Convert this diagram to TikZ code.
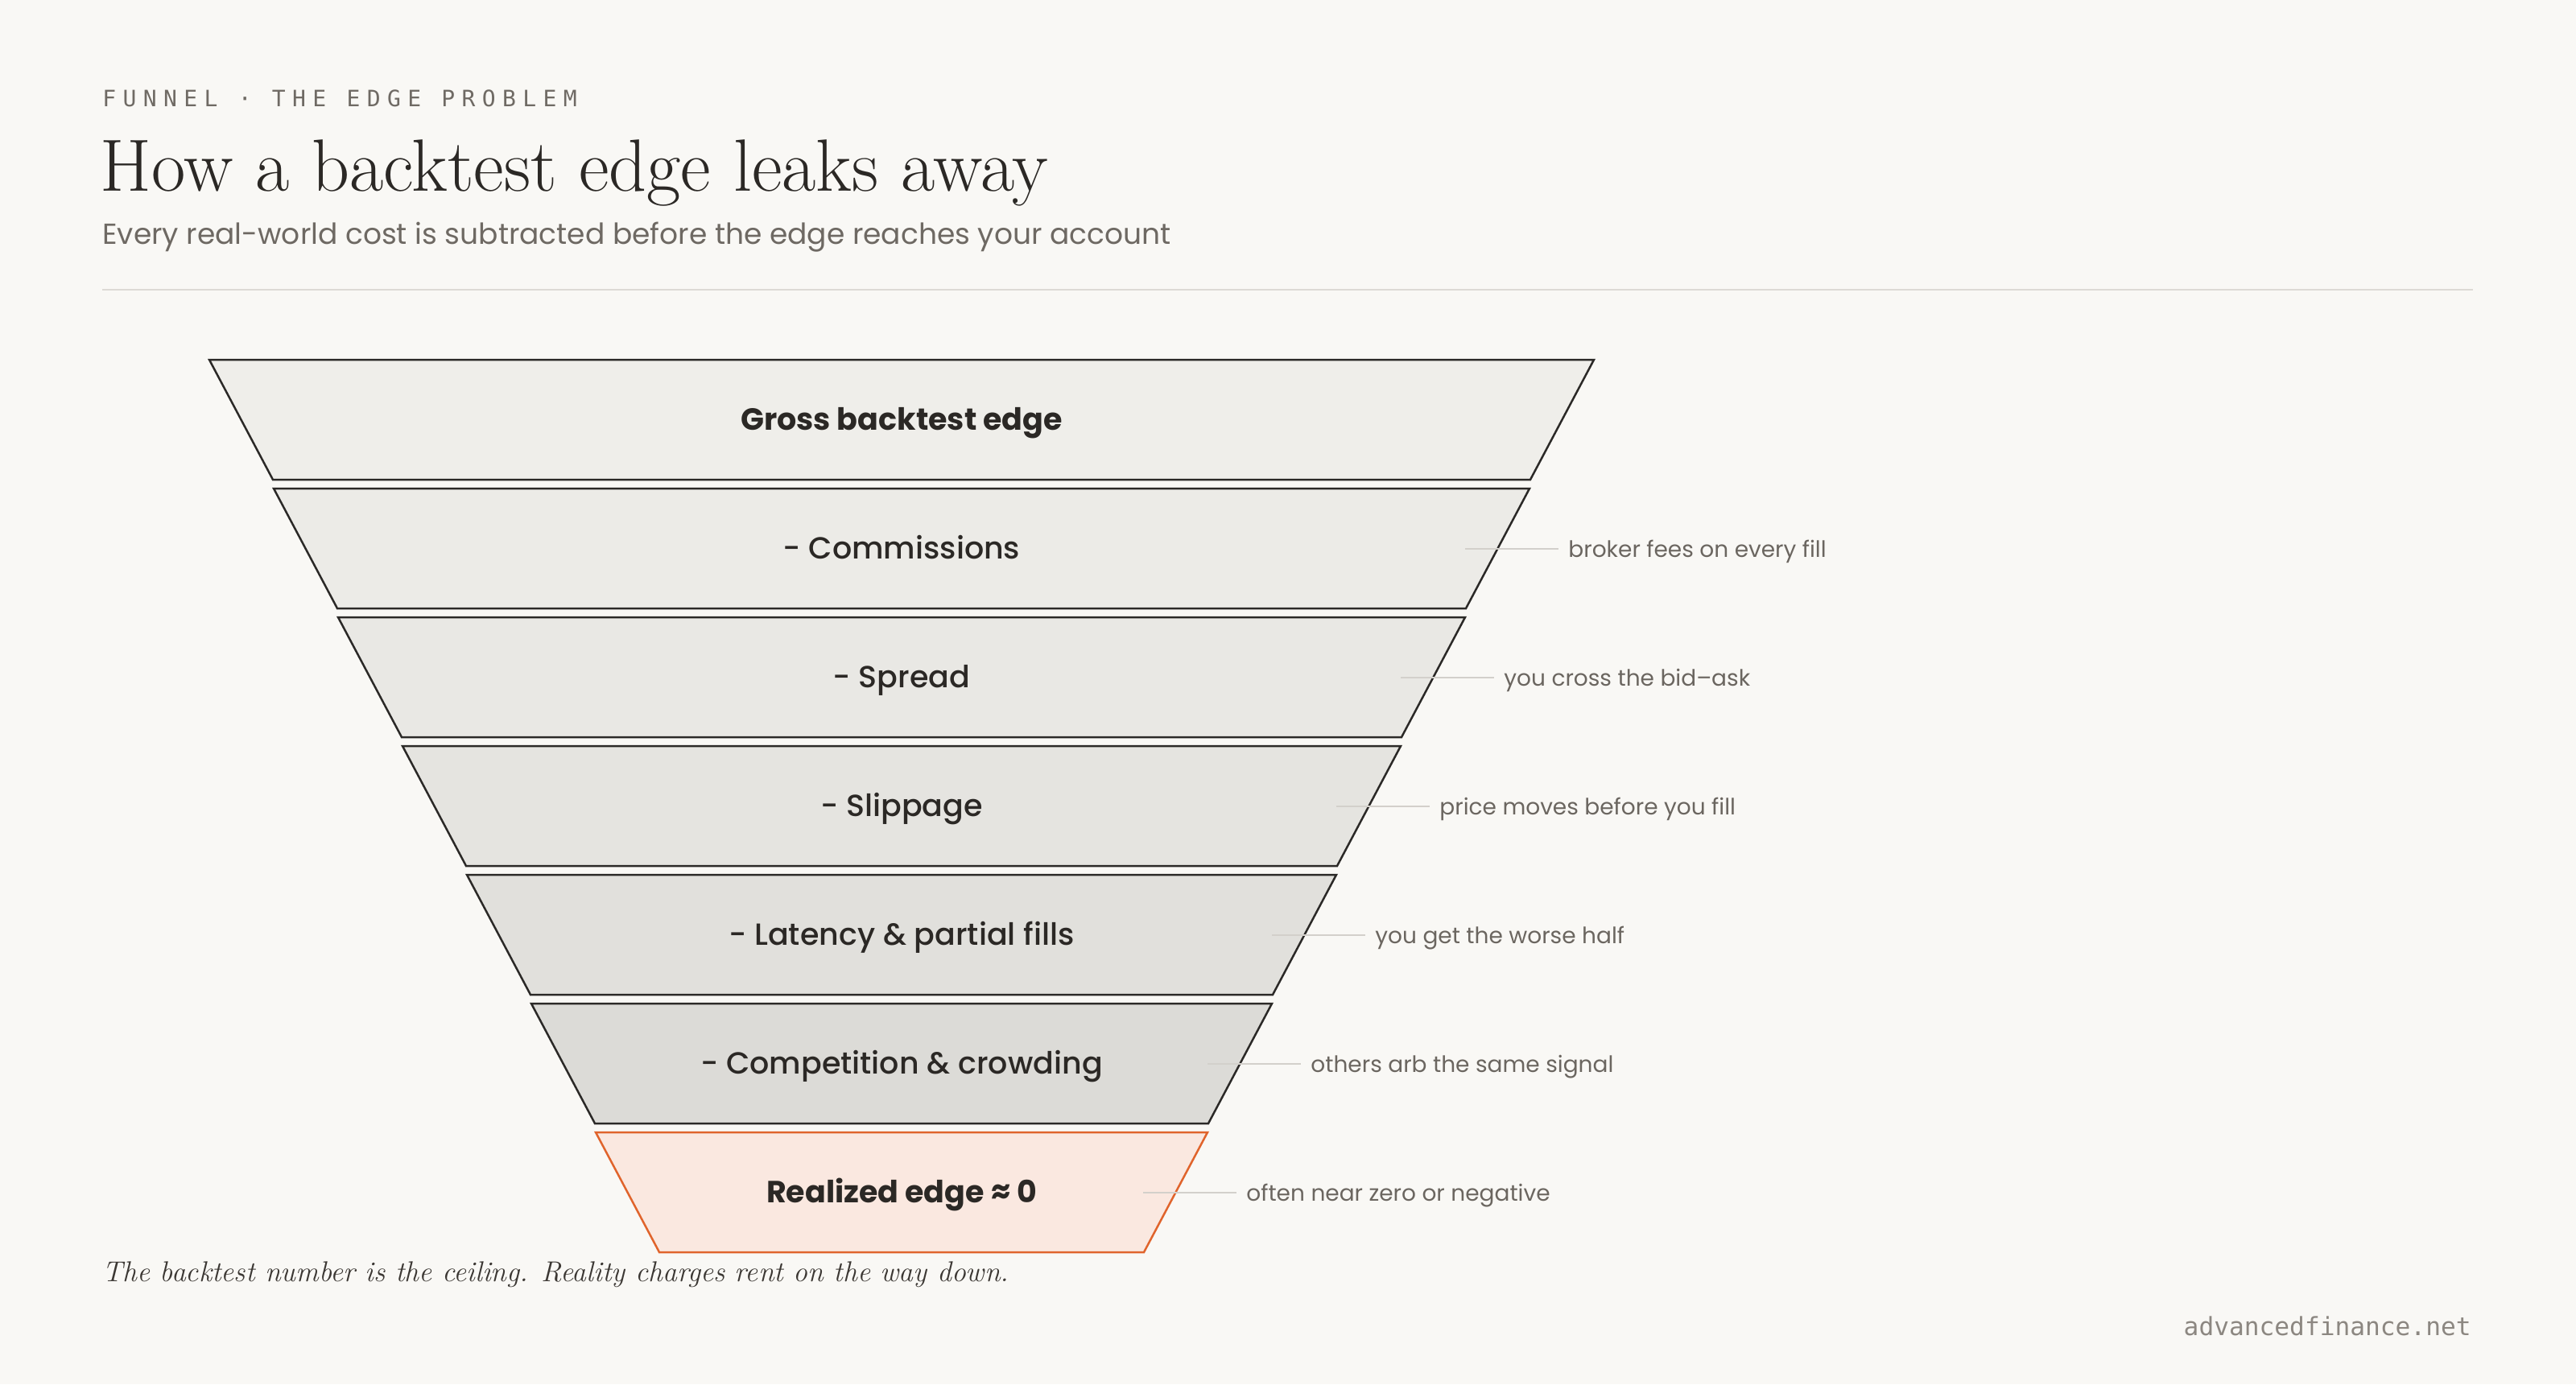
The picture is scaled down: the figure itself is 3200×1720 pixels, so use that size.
\documentclass[tikz,border=0pt]{standalone}
\usepackage{fontspec}
\newfontfamily\pop{Poppins}
\newfontfamily\popmed{Poppins Medium}
\newfontfamily\mono{DejaVu Sans Mono}
\newfontfamily\monols{DejaVu Sans Mono}[LetterSpace=30]
\definecolor{bgc}{HTML}{F9F8F5}
\definecolor{eyebrowc}{HTML}{6F6A64}
\definecolor{titlec}{HTML}{2B2825}
\definecolor{subc}{HTML}{6E6963}
\definecolor{rulec}{HTML}{DDDAD5}
\definecolor{strokec}{HTML}{2B2927}
\definecolor{fa}{HTML}{EFEEEA}
\definecolor{fb}{HTML}{ECEBE7}
\definecolor{fc}{HTML}{E9E8E4}
\definecolor{fd}{HTML}{E5E4E0}
\definecolor{fe}{HTML}{E1E0DC}
\definecolor{ff}{HTML}{DCDBD7}
\definecolor{realfill}{HTML}{FAE8E0}
\definecolor{realstroke}{HTML}{E0642C}
\definecolor{leaderc}{HTML}{D3D0CB}
\definecolor{annc}{HTML}{6B6660}
\definecolor{footc}{HTML}{3B3733}
\definecolor{sitec}{HTML}{8C8781}
\tikzset{
  bandline/.style={line width=1.25pt, line join=miter},
  bandtext/.style={anchor=base, inner sep=0pt, text=titlec},
  leader/.style={draw=leaderc, line width=1pt},
  anntext/.style={anchor=base west, inner sep=0pt, text=annc, font=\pop\fontsize{14}{17}\selectfont},
}
\newcommand\funnelband[5]{%
  \pgfmathsetmacro\yt{447+160*#1}%
  \pgfmathsetmacro\yb{\yt+149}%
  \pgfmathsetmacro\wt{860-80*#1}%
  \pgfmathsetmacro\wb{\wt-79}%
  \pgfmathsetmacro\ym{\yt+74.5+13}%
  \draw[bandline, fill=#2, draw=#3] (1120-\wt,\yt) -- (1120+\wt,\yt) -- (1120+\wb,\yb) -- (1120-\wb,\yb) -- cycle;
  \node[bandtext, font=#4] (band#1) at (1120,\ym) {#5};
}
\newcommand\annot[2]{%
  \pgfmathsetmacro\ym{447+160*#1+74.5}%
  \pgfmathsetmacro\xs{1120+860-80*#1-80}%
  \coordinate (la#1) at (\xs,\ym);
  \coordinate (lb#1) at (\xs+116,\ym);
  \draw[leader] (la#1) -- (lb#1);
  \node[anntext] (ann#1) at (\xs+128,\ym+11) {#2};
}
\begin{document}
\begin{tikzpicture}[x=0.5pt,y=-0.5pt]
\useasboundingbox (0,0) rectangle (3200,1720);
\fill[bgc] (0,0) rectangle (3200,1720);
% header
\node[anchor=base west, inner sep=0pt, text=eyebrowc, font=\monols\fontsize{14}{16}\selectfont] (eyebrow) at (127,132) {FUNNEL · THE EDGE PROBLEM};
\node[anchor=base west, inner sep=0pt, text=titlec, font=\rmfamily\fontsize{46}{53}\selectfont] (title) at (124,237) {How a backtest edge leaks away};
\node[anchor=base west, inner sep=0pt, text=subc, font=\pop\fontsize{18}{21}\selectfont] (subtitle) at (127,303) {Every real-world cost is subtracted before the edge reaches your account};
\coordinate (rulel) at (127,360);
\coordinate (ruler) at (3072,360);
\draw[draw=rulec, line width=1.25pt] (rulel) -- (ruler);
% funnel
\funnelband{0}{fa}{strokec}{\pop\bfseries\fontsize{19}{22}\selectfont}{Gross backtest edge}
\funnelband{1}{fb}{strokec}{\popmed\fontsize{19}{22}\selectfont}{- Commissions}
\funnelband{2}{fc}{strokec}{\popmed\fontsize{19}{22}\selectfont}{- Spread}
\funnelband{3}{fd}{strokec}{\popmed\fontsize{19}{22}\selectfont}{- Slippage}
\funnelband{4}{fe}{strokec}{\popmed\fontsize{19}{22}\selectfont}{- Latency \& partial fills}
\funnelband{5}{ff}{strokec}{\popmed\fontsize{19}{22}\selectfont}{- Competition \& crowding}
\funnelband{6}{realfill}{realstroke}{\pop\bfseries\fontsize{19}{22}\selectfont}{Realized edge ≈ 0}
% annotations
\annot{1}{broker fees on every fill}
\annot{2}{you cross the bid–ask}
\annot{3}{price moves before you fill}
\annot{4}{you get the worse half}
\annot{5}{others arb the same signal}
\annot{6}{often near zero or negative}
% footer
\node[anchor=base west, inner sep=0pt, text=footc, font=\rmfamily\itshape\fontsize{17.85}{21}\selectfont] (footnote) at (127,1592) {The backtest number is the ceiling. Reality charges rent on the way down.};
\node[anchor=base east, inner sep=0pt, text=sitec, font=\mono\fontsize{15.6}{18}\selectfont] (site) at (3070,1659) {advancedfinance.net};
\end{tikzpicture}
\end{document}
